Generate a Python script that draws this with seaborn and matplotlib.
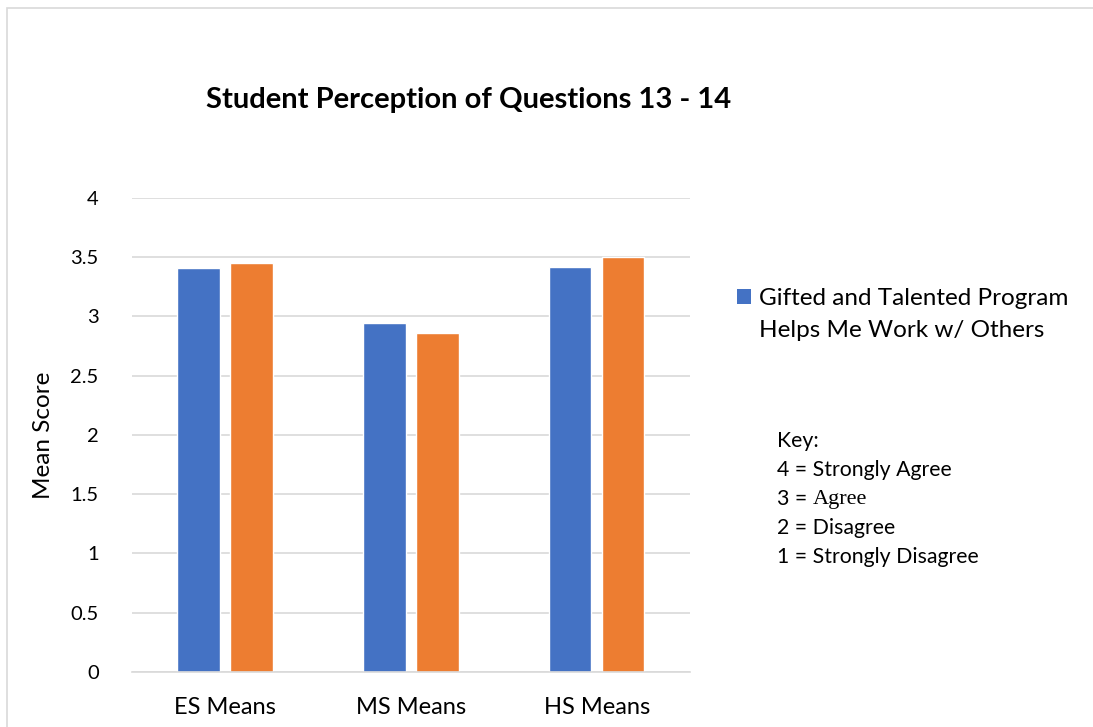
from matplotlib import pyplot as plt
from matplotlib.patches import Patch, Rectangle
import pandas as pd
import seaborn as sns

# chart data
categories = ['ES Means', 'MS Means', 'HS Means']
series_names = ['Gifted and Talented Program Helps Me Work w/ Others',
                'Gifted and Talented Program Question 14']
q13_means = [3.41, 2.945, 3.42]
q14_means = [3.45, 2.86, 3.50]
y_ticks = [0, 0.5, 1, 1.5, 2, 2.5, 3, 3.5, 4]
y_tick_labels = ['0', '0.5', '1', '1.5', '2', '2.5', '3', '3.5', '4']
legend_lines = ['Gifted and Talented Program', 'Helps Me Work w/ Others']
key_lines = ['Key:', '4 = Strongly Agree', '3 = ', '2 = Disagree',
             '1 = Strongly Disagree']

df = pd.DataFrame({
    'group': categories * 2,
    'series': [series_names[0]] * 3 + [series_names[1]] * 3,
    'mean': q13_means + q14_means,
})

sns.set_theme(style='white')
plt.rcParams['font.family'] = ['Lato', 'DejaVu Sans']
plt.rcParams['text.color'] = 'black'
plt.rcParams['axes.labelcolor'] = 'black'
plt.rcParams['xtick.color'] = 'black'
plt.rcParams['ytick.color'] = 'black'

colors = ['#4472C4', '#ED7D31']

fig = plt.figure(figsize=(10.93, 7.27), dpi=100)
ax = fig.add_axes([0.1208, 0.0757, 0.5102, 0.652])

sns.barplot(data=df, x='group', y='mean', hue='series', palette=colors,
            width=0.57, gap=0.2, ax=ax, legend=False, saturation=1)

ax.set_ylim(0, 4)
ax.set_yticks(y_ticks)
ax.set_yticklabels(y_tick_labels)
ax.yaxis.grid(True, color='#D9D9D9', linewidth=1.2)
ax.set_axisbelow(True)
for side in ['top', 'right', 'left']:
    ax.spines[side].set_visible(False)
ax.spines['bottom'].set_color('#D9D9D9')
ax.spines['bottom'].set_linewidth(1.2)
ax.tick_params(axis='both', length=0, colors='black')
ax.tick_params(axis='x', pad=18, labelsize=17)
ax.tick_params(axis='y', pad=24, labelsize=14.5)
ax.set_xlabel('')
ax.set_ylabel('Mean Score', fontsize=17.5)
ax.yaxis.set_label_coords(-0.14, 0.5)

fig.text(0.429, 0.862, 'Student Perception of Questions 13 - 14',
         ha='center', va='center', fontsize=21, fontweight='bold')

# legend only shows the first series, text wrapped over two entries
handles = [Patch(facecolor=colors[0], edgecolor='none'),
           Patch(facecolor='none', edgecolor='none')]
fig.legend(handles, legend_lines,
           loc='upper left', bbox_to_anchor=(0.674, 0.604),
           frameon=False, fontsize=17.5, handlelength=0.6, handleheight=0.6,
           handletextpad=0.3, labelspacing=0.45, borderpad=0, borderaxespad=0)

# key text box
key_y = 0.393
for i, line in enumerate(key_lines):
    t = fig.text(0.711, key_y - i * 0.0399, line, fontsize=15.3,
                 ha='left', va='center')
    if line == '3 = ':
        ax.annotate('Agree', xy=(1, 0.5), xycoords=t, va='center',
                    ha='left', fontsize=16, family='Liberation Serif')

# light outer border
fig.patches.append(Rectangle((0.0065, -0.05), 1.2, 1.039,
                             transform=fig.transFigure, fill=False,
                             edgecolor='#D9D9D9', linewidth=1.2))

fig.savefig('out.png', dpi=100)
